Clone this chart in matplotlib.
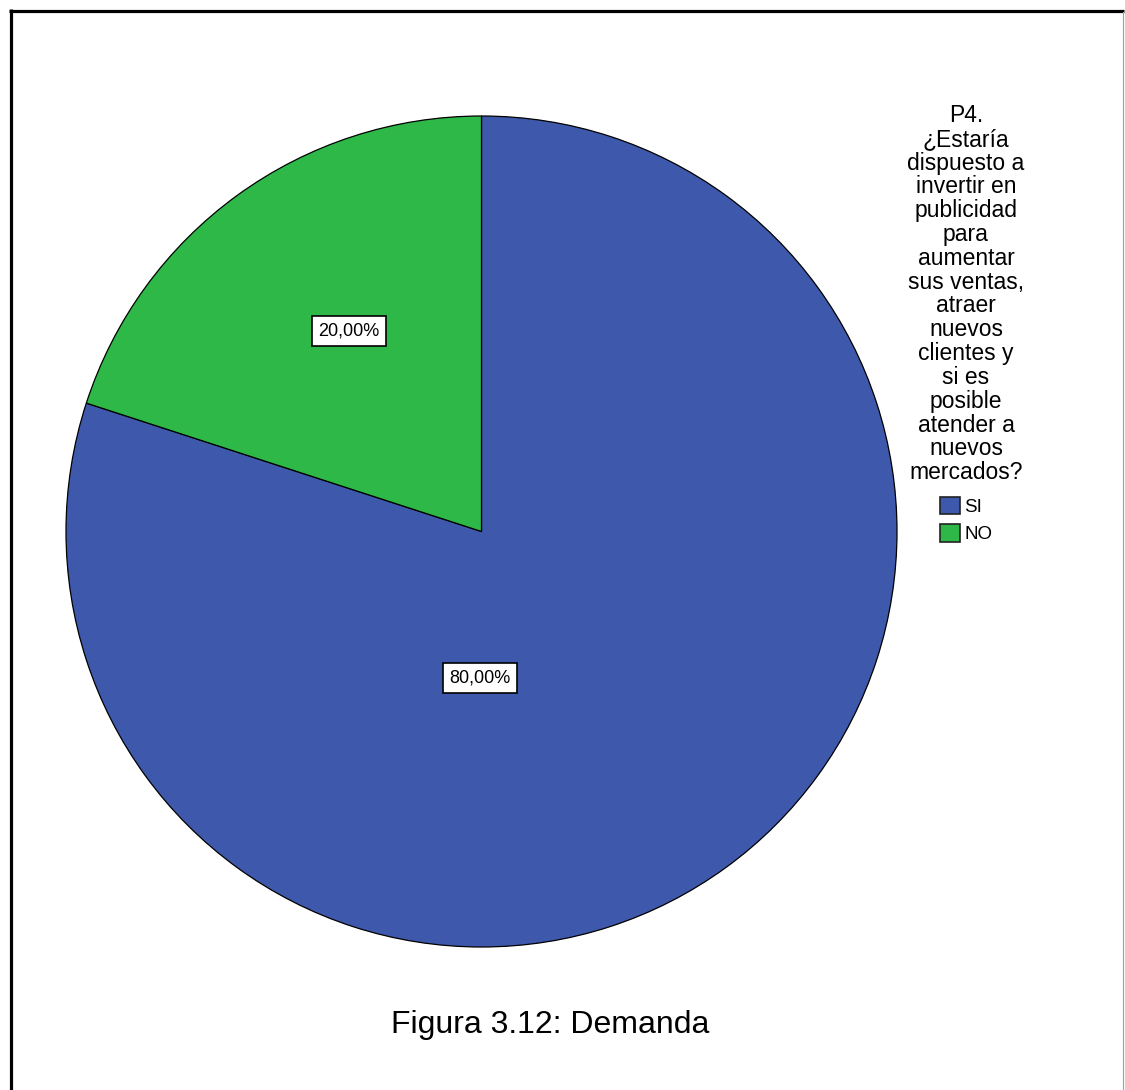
import matplotlib.pyplot as plt
from matplotlib.lines import Line2D
from matplotlib.patches import Patch

categories = ["SI", "NO"]
percentages = [80.0, 20.0]
colors = ["#3E58AC", "#2EB848"]
# label anchor points inside each wedge (pie radius = 1)
label_pos = [(-0.004, -0.353), (-0.319, 0.483)]
legend_title = ("P4.\n¿Estaría\ndispuesto a\ninvertir en\npublicidad\npara\naumentar\n"
                "sus ventas,\natraer\nnuevos\nclientes y\nsi es\nposible\natender a\n"
                "nuevos\nmercados?")
caption = "Figura 3.12: Demanda"

plt.rcParams['font.family'] = ['Liberation Sans', 'DejaVu Sans']

W, H = 1125, 1090
fig = plt.figure(figsize=(W / 100, H / 100), dpi=100)
fig.patch.set_facecolor("white")

# pie area: 831 px square, top-left at (66, 116)
ax = fig.add_axes([66 / W, (H - 947) / H, 831 / W, 831 / H])
wedges, _ = ax.pie(percentages, colors=colors, startangle=90, counterclock=False,
                   wedgeprops=dict(edgecolor="black", linewidth=0.9))
ax.set_xlim(-1, 1)
ax.set_ylim(-1, 1)
ax.set_aspect("equal")
ax.axis("off")

for v, (x, y) in zip(percentages, label_pos):
    ax.text(x, y, f"{v:.2f}%".replace(".", ","), ha="center", va="center", fontsize=13,
            bbox=dict(boxstyle="square,pad=0.35", fc="white", ec="black", lw=1.2))

handles = [Patch(facecolor=c, edgecolor="#222222", linewidth=1.2) for c in colors]
leg = fig.legend(handles, categories, loc="upper center",
                 bbox_to_anchor=(966 / W, (H - 104) / H), frameon=False,
                 title=legend_title, title_fontsize=16.5, fontsize=13.5,
                 handlelength=1.05, handleheight=1.05, handletextpad=0.25,
                 labelspacing=0.45, borderpad=0, borderaxespad=0)
leg.get_title().set_multialignment("center")
leg.get_title().set_linespacing(1.045)
leg._legend_box.sep = 9

fig.text(550 / W, (H - 1025) / H, caption, ha="center", va="center", fontsize=23)

# frame lines around the figure
fig.add_artist(Line2D([10.5 / W, 10.5 / W], [0, (H - 9) / H], color="black", lw=2.3,
                      transform=fig.transFigure, solid_capstyle="butt"))
fig.add_artist(Line2D([9 / W, 1124 / W], [(H - 10.5) / H, (H - 10.5) / H], color="black",
                      lw=2.3, transform=fig.transFigure, solid_capstyle="butt"))
fig.add_artist(Line2D([1123 / W, 1123 / W], [0, (H - 12) / H], color="#a0a0a0", lw=0.8,
                      transform=fig.transFigure))

fig.savefig("out.png", dpi=100)
